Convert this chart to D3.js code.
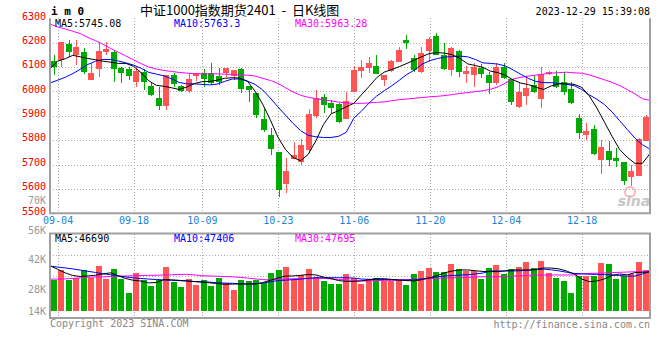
<!DOCTYPE html>
<html>
<head>
<meta charset="utf-8">
<script src="https://cdn.jsdelivr.net/npm/d3@7"></script>
<style>
  html, body { margin: 0; padding: 0; background: #fff; }
  svg { display: block; }
  text { font-family: "DejaVu Sans Mono", monospace; font-size: 10px; }
</style>
</head>
<body>
<div id="chart"></div>
<script>
/* ── data ──────────────────────────────────────────────── */
const dates = ['09-01','09-04','09-05','09-06','09-07','09-08','09-11','09-12','09-13','09-14',
  '09-15','09-18','09-19','09-20','09-21','09-22','09-25','09-26','09-27','09-28',
  '10-09','10-10','10-11','10-12','10-13','10-16','10-17','10-18','10-19','10-20',
  '10-23','10-24','10-25','10-26','10-27','10-30','10-31','11-01','11-02','11-03',
  '11-06','11-07','11-08','11-09','11-10','11-13','11-14','11-15','11-16','11-17',
  '11-20','11-21','11-22','11-23','11-24','11-27','11-28','11-29','11-30','12-01',
  '12-04','12-05','12-06','12-07','12-08','12-11','12-12','12-13','12-14','12-15',
  '12-18','12-19','12-20','12-21','12-22','12-25','12-26','12-27','12-28','12-29'];

const open  = [6125,6129,6195,6149,6160,6047,6092,6163,6160,6097, 6092,6040,6081,6022,5972,5942,6067,6022,6003,6065,
               6077,6077,6065,6077,6065,6092,6024,5995,5887,5821, 5753,5620,5723,5712,5760,5899,5976,5951,5948,5888,
               5999,6085,6097,6104,6047,6085,6122,6211,6136,6078, 6167,6227,6149,6088,6166,6071,6067,6095,6067,6036,
               6102,6051,5935,5983,6026,5969,6071,6065,6040,6010, 5892,5821,5846,5719,5756,5728,5709,5650,5654,5798];
const high  = [6149,6201,6211,6211,6177,6115,6201,6201,6170,6100, 6102,6102,6091,6040,6019,6067,6074,6026,6074,6077,
               6091,6118,6095,6097,6088,6097,6024,5995,5928,5851, 5753,5725,5791,5805,5928,6006,5989,5965,5954,5999,
               6104,6129,6143,6149,6067,6129,6181,6232,6149,6181, 6222,6241,6200,6181,6170,6104,6115,6113,6081,6115,
               6115,6051,6040,6065,6065,6102,6085,6084,6081,6040, 5906,5869,5862,5801,5797,5766,5712,5698,5807,5903];
const low   = [6067,6102,6143,6108,6070,6047,6061,6149,6040,6033, 6047,6019,6006,5983,5924,5924,6019,5999,5992,6044,
               6017,6026,6026,6061,6047,5995,5958,5890,5835,5739, 5568,5582,5723,5698,5746,5890,5913,5913,5872,5888,
               5999,6054,6074,6071,6022,6081,6122,6173,6081,6074, 6122,6149,6088,6065,6061,6033,6017,6054,5988,6026,
               6050,5944,5931,5944,5992,5933,6067,6013,5985,5948, 5805,5801,5739,5661,5694,5691,5616,5612,5653,5798];
const close = [6102,6201,6163,6184,6078,6077,6166,6174,6092,6077, 6065,6085,6040,5985,5942,6067,6030,6003,6050,6077,
               6051,6033,6040,6097,6088,6010,6006,5903,5842,5764, 5595,5675,5739,5780,5906,5974,5944,5933,5874,5961,
               6088,6102,6115,6071,6067,6126,6170,6200,6088,6159, 6215,6149,6092,6177,6081,6085,6102,6071,6036,6099,
               6056,5958,5999,6015,5999,6071,6081,6019,5999,5954, 5831,5838,5743,5771,5719,5716,5634,5673,5805,5896];

const volume = [37100,49100,37100,39500,49100,39500,53800,38300,50300,38300, 21500,45500,37100,29900,37100,52700,34700,28700,38300,31100,
                37100,29900,39500,33500,25100,37100,35900,37100,33500,45500, 49100,52700,37100,43100,50300,40700,35900,32300,32300,44300,
                39800,32300,38300,39500,36300,36300,37500,31100,44300,47900, 51500,46700,46700,56200,50300,48200,48200,38300,51500,55000,
                44300,50300,52700,58600,51500,59800,45500,39500,35900,21500, 41900,41900,41900,57800,56200,38300,41900,43700,59000,49100];

const ma5  = [6093,6124,6134,6148,6142,6135,6130,6124,6120,6115, 6115,6103,6077,6044,6025,6021,6015,6008,6018,6032,
              6040,6041,6046,6054,6056,6055,6042,6001,5948,5884, 5813,5762,5729,5716,5742,5797,5864,5908,5921,5937,
              5951,5986,6020,6056,6079,6090,6102,6115,6129,6143, 6156,6159,6157,6150,6135,6113,6106,6099,6083,6077,
              6065,6047,6034,6028,6017,6008,6023,6031,6032,6029, 6017,5982,5932,5874,5816,5762,5730,5705,5705,5745.08];
const ma10 = [6035,6046,6058,6073,6091,6111,6124,6131,6131,6125, 6117,6108,6095,6078,6071,6064,6052,6037,6031,6031,
              6029,6027,6030,6041,6051,6051,6042,6029,6006,5973, 5937,5903,5869,5839,5820,5814,5811,5811,5816,5832,
              5890,5919,5952,5981,6003,6023,6046,6070,6088,6112, 6126,6135,6141,6143,6145,6142,6131,6117,6115,6112,
              6104,6088,6070,6053,6041,6036,6036,6033,6029,6024, 6008,5986,5968,5946,5916,5880,5844,5809,5781,5763.3];
const ma30 = [6276,6265,6256,6247,6237,6221,6208,6193,6176,6161, 6145,6130,6114,6100,6092,6086,6082,6078,6075,6073,
              6072,6072,6072,6071,6070,6067,6067,6063,6054,6045, 6033,6015,5998,5984,5976,5970,5966,5961,5956,5953,
              5951,5951,5953,5955,5957,5962,5966,5969,5972,5975, 5978,5980,5983,5987,5992,5995,5999,6003,6009,6019,
              6035,6051,6058,6063,6067,6071,6075,6077,6079,6076, 6075,6068,6058,6048,6037,6024,6008,5990,5970,5963.28];

const vma5  = [54200,50000,45600,42500,41300,42000,42800,44400,45700,42100, 38800,36700,35800,33600,34100,37600,37300,36700,36000,35200,
               34600,33700,32900,31900,32200,32300,32300,32300,34100,36700, 39500,41800,41900,42700,43700,43200,40600,38800,36400,35500,
               35500,36000,37300,38600,38600,37800,37000,36400,35900,37600, 39700,42500,45800,47900,49100,49100,48200,47300,47100,47100,
               48100,49100,49100,49100,49800,51500,51400,50400,47900,44300, 38300,35100,35900,38400,42500,44300,43200,45900,46300,46690];
const vma10 = [53700,52500,51500,50400,48900,47500,46100,44600,43400,42100, 40700,39600,38900,38200,37700,37100,36700,36400,35900,35300,
               34900,34600,33700,33400,33100,32700,32300,32700,33300,34900, 36400,36900,37500,38100,39100,39800,39800,39800,39800,39800,
               39400,38200,37900,37900,37700,37300,37100,37100,37300,38400, 39700,41000,41800,42500,43000,43400,44300,45400,47900,47900,
               47900,47900,48200,48800,49400,50100,49300,48000,46400,45000, 44500,44000,43800,43600,43200,42500,41700,41900,44300,47406];
const vma30 = [38100,38200,38400,39000,39800,40200,40700,40900,41300,41500, 41900,42200,42500,42600,42800,43100,43300,43700,43900,43200,
               42200,41900,41600,41300,40900,40300,39400,38400,37600,37200, 37700,38300,38500,38900,39100,39100,39000,38400,37800,37200,
               36500,35900,36100,36400,36600,36900,37100,37500,37800,38300, 38800,39100,39500,39700,40100,40300,40700,41000,41000,41000,
               41400,41800,42100,42600,43000,43100,43100,43100,43100,43200, 44500,44900,45200,45600,46000,46300,46600,47000,47300,47695];

const priceTicks = [6300, 6200, 6100, 6000, 5900, 5800, 5700, 5600, 5500];
const priceGrid  = [6200, 6100, 6000, 5900, 5800, 5700, 5600];
const dateTicks  = ['09-04', '09-18', '10-09', '10-23', '11-06', '11-20', '12-04', '12-18'];
const volTicks   = [70000, 56000, 42000, 28000, 14000];
const volTickLabels = ['70K', '56K', '42K', '28K', '14K'];

/* ── layout ───────────────────────────────────────────── */
const width = 660, height = 360;
const left = 50, right = 650;
const main = { top: 18.3, bottom: 213.3 };
const vol  = { top: 233.5, bottom: 318, base: 311 };

const RED = '#ff5555', GREEN = '#00aa00', GRID = '#aaaaaa', FRAME = '#a0a0a0';

const svg = d3.select('#chart').append('svg')
  .attr('width', width).attr('height', height)
  .attr('viewBox', `0 0 ${width} ${height}`);

svg.append('rect').attr('width', width).attr('height', height).attr('fill', '#fff');

// ── scales ──
const xBand = d3.scaleBand().domain(dates).range([left, right])
  .paddingInner(0.2).paddingOuter(0.1);
const xPoint = d3.scalePoint().domain(dates).range([left, right]);
const yPrice = d3.scaleLinear().domain([5500, 6300]).range([main.bottom, main.top]);
const yVol = d3.scaleLinear().domain([0, 70000]).range([vol.base, 252.5]);
// the volume labels sit on their own (odd) spacing in the original
const yVolLabel = d3.scaleLinear().domain([70000, 28000]).range([200.7, 289.3]);

const idx = d3.range(dates.length);
const px = v => Math.round(v) + 0.5;

// ── gridlines ──
const grid = svg.append('g')
  .attr('stroke', GRID).attr('stroke-dasharray', '1,2').attr('shape-rendering', 'crispEdges');

grid.selectAll('.hg').data(priceGrid).join('line')
  .attr('x1', left).attr('x2', right)
  .attr('y1', d => px(yPrice(d))).attr('y2', d => px(yPrice(d)));

[0.25, 0.5, 0.75].forEach(f => {
  const y = px(vol.top + (vol.bottom - vol.top) * f);
  grid.append('line').attr('x1', left).attr('x2', right).attr('y1', y).attr('y2', y);
});

grid.selectAll('.vg').data(dateTicks).join('line')
  .attr('x1', d => px(xPoint(d))).attr('x2', d => px(xPoint(d)))
  .attr('y1', main.top).attr('y2', main.bottom);
grid.selectAll('.vg2').data(dateTicks).join('line')
  .attr('x1', d => px(xPoint(d))).attr('x2', d => px(xPoint(d)))
  .attr('y1', vol.top).attr('y2', vol.bottom);

// ── sina watermark ──
const wm = svg.append('g').attr('opacity', 0.55);
wm.append('circle').attr('cx', 630).attr('cy', 192).attr('r', 5)
  .attr('fill', 'none').attr('stroke', '#f08080').attr('stroke-width', 2);
wm.append('text').attr('x', 634).attr('y', 206).attr('text-anchor', 'middle')
  .style('font-family', 'DejaVu Sans, sans-serif').style('font-size', '14px')
  .style('font-weight', 'bold').style('font-style', 'italic')
  .attr('fill', '#999').text('sina');

// ── candles ──
const bw = 6;
const candles = svg.append('g').attr('shape-rendering', 'crispEdges');
idx.forEach(i => {
  const bx = Math.round(xBand(dates[i]));
  const up = close[i] >= open[i];
  const col = up ? RED : GREEN;
  const yTop = yPrice(Math.max(open[i], close[i]));
  const yBot = yPrice(Math.min(open[i], close[i]));
  candles.append('rect')
    .attr('x', bx + 2.5).attr('width', 1)
    .attr('y', yPrice(high[i])).attr('height', Math.max(1, yPrice(low[i]) - yPrice(high[i])))
    .attr('fill', col);
  candles.append('rect')
    .attr('x', bx).attr('width', bw)
    .attr('y', yTop).attr('height', Math.max(1, yBot - yTop))
    .attr('fill', col);
});

// ── volume bars ──
svg.append('g').attr('shape-rendering', 'crispEdges')
  .selectAll('rect').data(idx).join('rect')
  .attr('x', i => Math.round(xBand(dates[i])))
  .attr('width', bw)
  .attr('y', i => yVol(volume[i]))
  .attr('height', i => vol.base - yVol(volume[i]))
  .attr('fill', i => close[i] >= open[i] ? RED : GREEN);

// ── moving averages ──
const drawLine = (vals, yScale, color) => {
  svg.append('path')
    .datum(idx)
    .attr('fill', 'none').attr('stroke', color).attr('stroke-width', 1)
    .attr('d', d3.line().x(i => xPoint(dates[i])).y(i => yScale(vals[i])));
};
drawLine(ma30, yPrice, '#ff00ff');
drawLine(ma10, yPrice, '#0000ff');
drawLine(ma5, yPrice, '#000000');
drawLine(vma30, yVol, '#ff00ff');
drawLine(vma10, yVol, '#0000ff');
drawLine(vma5, yVol, '#000000');

// ── frames ──
const frame = svg.append('g').attr('stroke', FRAME).attr('stroke-width', 2).attr('fill', 'none');
frame.append('path').attr('d', `M${left},${main.top} V${main.bottom} H${right} V${main.top}`);
frame.append('rect').attr('x', left).attr('y', vol.top)
  .attr('width', right - left).attr('height', vol.bottom - vol.top);

// ── axes ──
svg.append('g')
  .attr('transform', `translate(${left},0)`)
  .call(d3.axisLeft(yPrice).tickValues(priceTicks).tickFormat(d3.format('d'))
    .tickSize(0).tickPadding(4))
  .call(g => g.select('.domain').remove())
  .call(g => g.selectAll('.tick text')
    .attr('y', -2.5)
    .attr('fill', '#ee0000')
    .style('font-family', '"DejaVu Sans Mono", monospace').style('font-size', '10px'));

svg.append('g')
  .attr('transform', `translate(0,${main.bottom})`)
  .call(d3.axisBottom(xPoint).tickValues(dateTicks).tickSize(0).tickPadding(4))
  .call(g => g.select('.domain').remove())
  .call(g => g.selectAll('.tick text')
    .attr('fill', '#1a84d2')
    .style('font-family', '"DejaVu Sans Mono", monospace').style('font-size', '10px'));

svg.append('g').selectAll('text').data(volTicks).join('text')
  .attr('x', left - 4)
  .attr('y', d => Math.min(yVolLabel(d), 311.7))
  .attr('dy', '0.35em')
  .attr('text-anchor', 'end')
  .attr('fill', '#999')
  .text((d, i) => volTickLabels[i]);

// ── legends ──
const legend = (y, items) => {
  items.forEach(([x, label, color]) => {
    svg.append('text').attr('x', x).attr('y', y).attr('dy', '0.35em')
      .attr('fill', color).text(label);
  });
};
const last = a => a[a.length - 1];
legend(23.3, [
  [55, `MA5:${last(ma5)}`, '#000'],
  [174, `MA10:${last(ma10)}`, '#0000ff'],
  [295, `MA30:${last(ma30)}`, '#ff00ff']
]);
legend(238, [
  [55, `MA5:${last(vma5)}`, '#000'],
  [174, `MA10:${last(vma10)}`, '#0000ff'],
  [295, `MA30:${last(vma30)}`, '#ff00ff']
]);

// ── header / footer text ──
svg.append('text').attr('x', 51).attr('y', 11.5).attr('dy', '0.35em')
  .style('font-weight', 'bold').style('font-size', '11px')
  .attr('fill', '#000').text('i m 0');

svg.append('text').attr('x', 140).attr('y', 10.5).attr('dy', '0.35em')
  .style('font-family', '"Noto Sans CJK SC", sans-serif').style('font-size', '13px')
  .style('white-space', 'pre')
  .attr('fill', '#000').text('中证1000指数期货2401  -  日K线图');

svg.append('text').attr('x', 650).attr('y', 11).attr('dy', '0.35em')
  .attr('text-anchor', 'end').attr('fill', '#000').text('2023-12-29 15:39:08');

svg.append('text').attr('x', 50).attr('y', 323).attr('dy', '0.35em')
  .attr('fill', '#888').text('Copyright 2023 SINA.COM');

svg.append('text').attr('x', 650).attr('y', 324).attr('dy', '0.35em')
  .attr('text-anchor', 'end').attr('fill', '#888').text('http://finance.sina.com.cn');
</script>
</body>
</html>
